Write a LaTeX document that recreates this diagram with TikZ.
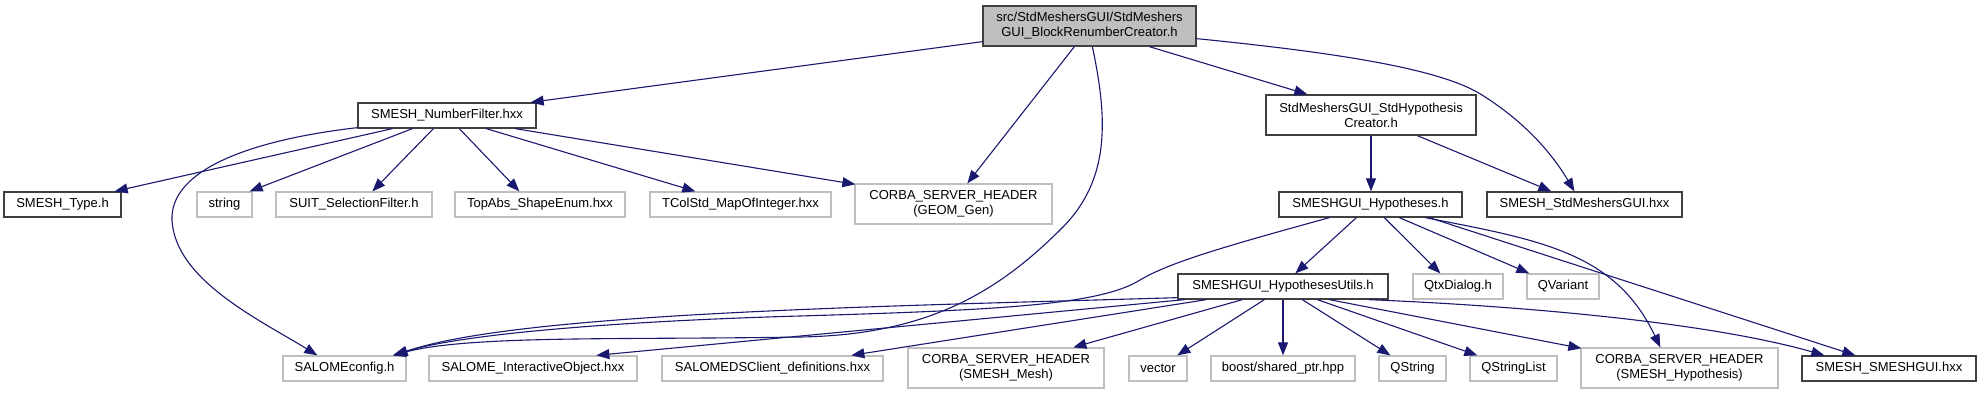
\documentclass[tikz,border=0pt]{standalone}
\usepackage{fontspec}
\setmainfont{Liberation Sans}
\usetikzlibrary{arrows.meta}
\definecolor{edgec}{HTML}{191970}
\definecolor{greyb}{HTML}{BFBFBF}
\definecolor{darkb}{HTML}{404040}
\tikzset{
  basebox/.style={rectangle, inner sep=0pt, line width=1.3pt, fill=white, align=center,
    font=\fontsize{13}{15}\selectfont, minimum height=25pt},
  doc/.style={basebox, draw=darkb},
  ext/.style={basebox, draw=greyb},
  mainbox/.style={basebox, draw=darkb, fill=greyb, minimum height=40pt},
  dep/.style={draw=edgec, line width=1.1pt, -{Triangle[length=13pt,width=10pt]}},
}
\begin{document}
\begin{tikzpicture}[x=1pt,y=-1pt]
\useasboundingbox (0,0) rectangle (1981,395);
\fill[white] (0,0) rectangle (1981,395);

% nodes
\node[mainbox, minimum width=213pt] (main) at (1089.5,26) {src/StdMeshersGUI/StdMeshers\\GUI\_BlockRenumberCreator.h};
\node[doc, minimum width=178pt] (nf) at (447,115.5) {SMESH\_NumberFilter.hxx};
\node[doc, minimum width=210pt, minimum height=40pt] (stdhyp) at (1371,115) {StdMeshersGUI\_StdHypothesis\\Creator.h};

\node[doc, minimum width=117pt] (type) at (62.5,204.5) {SMESH\_Type.h};
\node[ext, minimum width=55pt] (str) at (224.5,204.5) {string};
\node[ext, minimum width=156pt] (suit) at (354,204.5) {SUIT\_SelectionFilter.h};
\node[ext, minimum width=170pt] (topabs) at (540,204.5) {TopAbs\_ShapeEnum.hxx};
\node[ext, minimum width=181pt] (tcol) at (740.5,204.5) {TColStd\_MapOfInteger.hxx};
\node[ext, minimum width=197pt, minimum height=40pt] (geom) at (953.5,204) {CORBA\_SERVER\_HEADER\\(GEOM\_Gen)};
\node[doc, minimum width=183pt] (hyp) at (1370.5,204.5) {SMESHGUI\_Hypotheses.h};
\node[doc, minimum width=195pt] (stdm) at (1584.5,204.5) {SMESH\_StdMeshersGUI.hxx};

\node[doc, minimum width=210pt] (utils) at (1283,286.5) {SMESHGUI\_HypothesesUtils.h};
\node[ext, minimum width=90pt] (qtx) at (1458,286.5) {QtxDialog.h};
\node[ext, minimum width=72pt] (qvar) at (1563,286.5) {QVariant};

\node[ext, minimum width=123pt] (salcfg) at (344.5,368.5) {SALOMEconfig.h};
\node[ext, minimum width=208pt] (sio) at (533,368.5) {SALOME\_InteractiveObject.hxx};
\node[ext, minimum width=221pt] (sds) at (772.5,368.5) {SALOMEDSClient\_definitions.hxx};
\node[ext, minimum width=196pt, minimum height=40pt] (mesh) at (1006,368) {CORBA\_SERVER\_HEADER\\(SMESH\_Mesh)};
\node[ext, minimum width=58pt] (vec) at (1158,368.5) {vector};
\node[ext, minimum width=144pt] (boost) at (1283,368.5) {boost/shared\_ptr.hpp};
\node[ext, minimum width=67pt] (qstr) at (1412.5,368.5) {QString};
\node[ext, minimum width=87pt] (qsl) at (1513.5,368.5) {QStringList};
\node[ext, minimum width=197pt, minimum height=40pt] (hypo) at (1679.5,368) {CORBA\_SERVER\_HEADER\\(SMESH\_Hypothesis)};
\node[doc, minimum width=174pt] (smeshgui) at (1889,368.5) {SMESH\_SMESHGUI.hxx};

% main edges
\draw[dep] ([yshift=5pt]main.south west) -- ([xshift=-6pt]nf.north east);
\draw[dep] ([xshift=92pt]main.south west) -- ([xshift=113pt]geom.north west);
\draw[dep] ([xshift=110pt]main.south west) .. controls (1108,120) and (1110,180) .. (1062,228)
   .. controls (1000,290) and (930,335) .. (800,337)
   .. controls (620,340) and (470,335) .. ([xshift=-14pt]salcfg.north east);
\draw[dep] ([xshift=167pt]main.south west) -- ([xshift=42pt]stdhyp.north west);
\draw[dep] ([yshift=8pt]main.south east) .. controls (1330,52) and (1440,68) .. (1482,95)
   .. controls (1530,125) and (1556,160) .. ([xshift=88pt]stdm.north west);

% NumberFilter edges
\draw[dep] ([xshift=35pt]nf.south west) -- ([xshift=-7pt]type.north east);
\draw[dep] ([xshift=55pt]nf.south west) -- ([xshift=-3pt]str.north east);
\draw[dep] ([xshift=76pt]nf.south west) -- ([xshift=97pt]suit.north west);
\draw[dep] ([xshift=102pt]nf.south west) -- ([xshift=65pt]topabs.north west);
\draw[dep] ([xshift=129pt]nf.south west) -- ([xshift=46pt]tcol.north west);
\draw[dep] ([xshift=158pt]nf.south west) -- ([xshift=1pt,yshift=-1pt]geom.north west);
\draw[dep] ([yshift=1pt]nf.south west) .. controls (250,140) and (170,170) .. (172,220)
   .. controls (175,280) and (260,320) .. ([xshift=35pt]salcfg.north west);

% StdHypothesisCreator edges
\draw[dep] (stdhyp.south) -- (hyp.north -| stdhyp.south);
\draw[dep] ([xshift=152pt]stdhyp.south west) -- ([xshift=65pt]stdm.north west);

% Hypotheses edges
\draw[dep] ([xshift=78pt]hyp.south west) -- ([xshift=118pt]utils.north west);
\draw[dep] ([xshift=51pt]hyp.south west) .. controls (1230,245) and (1170,262) .. (1140,280)
   .. controls (1100,305) and (1000,310) .. (800,316)
   .. controls (620,321) and (460,334) .. ([xshift=-13pt]salcfg.north east);
\draw[dep] ([xshift=106pt]hyp.south west) -- ([xshift=28pt]qtx.north west);
\draw[dep] ([xshift=121pt]hyp.south west) -- ([xshift=3pt]qvar.north west);
\draw[dep] ([xshift=147pt]hyp.south west) .. controls (1540,240) and (1615,252) .. ([xshift=80pt]hypo.north west);
\draw[dep] ([xshift=151pt]hyp.south west) -- ([xshift=54pt]smeshgui.north west);

% HypothesesUtils edges
\draw[dep] ([yshift=2pt]utils.south west) .. controls (900,306) and (520,312) .. ([xshift=-12pt]salcfg.north east);
\draw[dep] ([xshift=7pt]utils.south west) -- ([xshift=168pt]sio.north west);
\draw[dep] ([xshift=29pt]utils.south west) -- ([xshift=190pt]sds.north west);
\draw[dep] ([xshift=65pt]utils.south west) -- ([xshift=166pt]mesh.north west);
\draw[dep] ([xshift=87pt]utils.south west) -- ([xshift=49pt]vec.north west);
\draw[dep] (utils.south) -- (boost.north);
\draw[dep] ([xshift=125pt]utils.south west) -- ([xshift=12pt]qstr.north west);
\draw[dep] ([xshift=140pt]utils.south west) -- ([xshift=8pt]qsl.north west);
\draw[dep] ([xshift=152pt]utils.south west) -- ([xshift=1pt,yshift=-1pt]hypo.north west);
\draw[dep] ([xshift=-20pt]utils.south east) .. controls (1500,305) and (1700,320) .. ([xshift=23pt]smeshgui.north west);
\end{tikzpicture}
\end{document}
